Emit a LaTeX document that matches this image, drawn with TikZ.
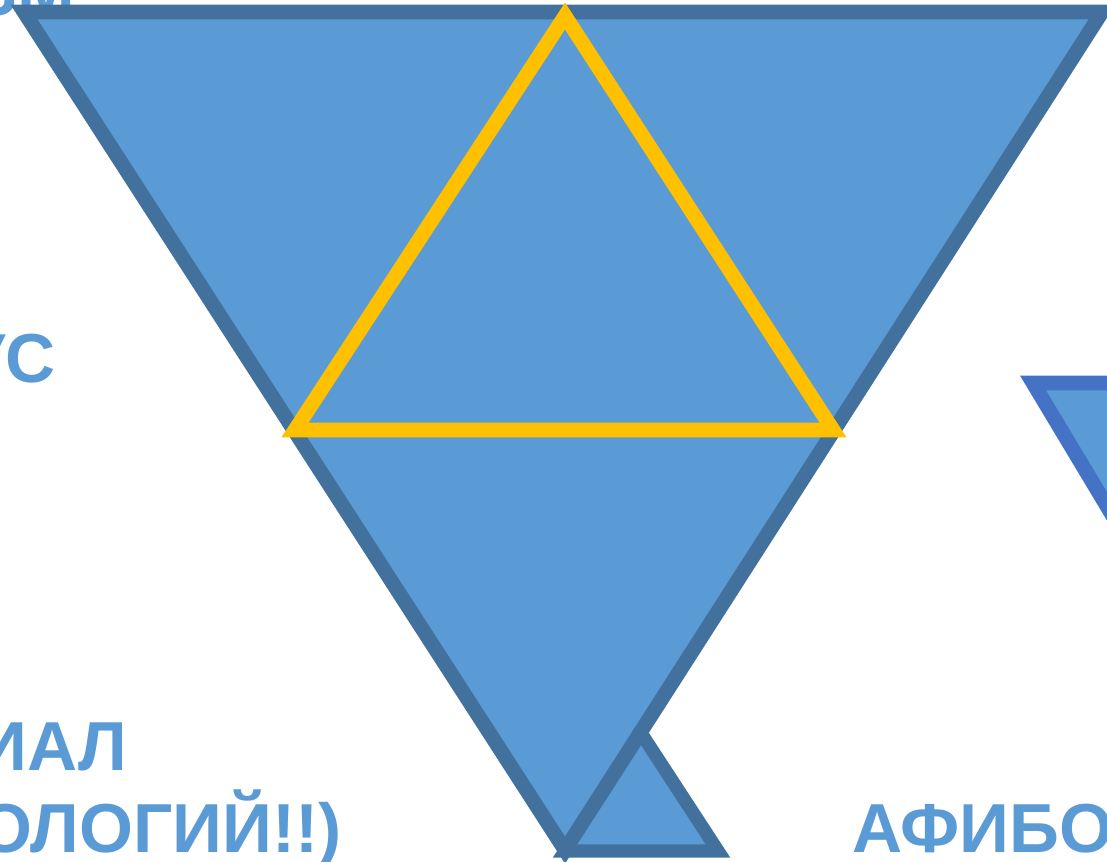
\documentclass[tikz,border=0pt]{standalone}
\usepackage{fontspec}
\setmainfont{Liberation Sans}

\definecolor{triFill}{HTML}{5B9BD5}
\definecolor{triEdge}{HTML}{41719C}
\definecolor{sideEdge}{HTML}{4472C4}
\definecolor{innerEdge}{HTML}{FFC000}

\begin{document}
\begin{tikzpicture}[
    x=0.75pt,
    y=-0.75pt,
    caption/.style={
        font=\fontsize{52}{62}\selectfont\bfseries,
        text=triFill,
        inner sep=0pt
    },
    bigtri/.style={
        fill=triFill,
        draw=triEdge,
        line width=11pt,
        line join=miter
    },
    smalltri/.style={
        fill=triFill,
        draw=triEdge,
        line width=10pt,
        line join=miter
    },
    sidetri/.style={
        fill=triFill,
        draw=sideEdge,
        line width=11pt,
        line join=miter
    },
    innertri/.style={
        draw=innerEdge,
        line width=11pt,
        line join=miter
    }
]

\useasboundingbox (0,0) rectangle (1107,862);
\clip (0,0) rectangle (1107,862);

% Base line of the lower texts
\def\LowY{852}

% ==================================================
% Texts (cut by the frame)
% ==================================================

\node[caption, anchor=base east] (topword) at (76,16) {ЗМ};

\node[caption, anchor=base east] (midword) at (56,383) {УС};

\node[caption, anchor=base east] (lowword) at (127,770) {ИАЛ};

\node[caption, anchor=base east] (lowline) at (342,\LowY) {(ОЛОГИЙ!!)};

\node[caption, anchor=base west] (rightword) at (852,\LowY) {АФИБОЛ};

% ==================================================
% Big inverted triangle
% ==================================================

\coordinate (bigL) at (24,12);
\coordinate (bigR) at (1102,12);
\coordinate (bigB) at (565,850);

\draw[bigtri] (bigL) -- (bigR) -- (bigB) -- cycle;

% ==================================================
% Small triangle below, on the right side
% ==================================================

\coordinate (smallL) at (565,851);
\coordinate (smallT) at (641,733);
\coordinate (smallR) at (718,851);

\draw[smalltri] (smallL) -- (smallT) -- (smallR) -- cycle;

% ==================================================
% Inner yellow triangle
% ==================================================

\coordinate (innerT) at (565,16);
\coordinate (innerL) at (295,430);
\coordinate (innerR) at (833,430);

\draw[innertri] (innerT) -- (innerR) -- (innerL) -- cycle;

% ==================================================
% Triangle at the right border
% ==================================================

\coordinate (sideL) at (1033,383);
\coordinate (sideR) at (1393,383);
\coordinate (sideB) at (1213,683);

\draw[sidetri] (sideL) -- (sideR) -- (sideB) -- cycle;

\end{tikzpicture}
\end{document}
